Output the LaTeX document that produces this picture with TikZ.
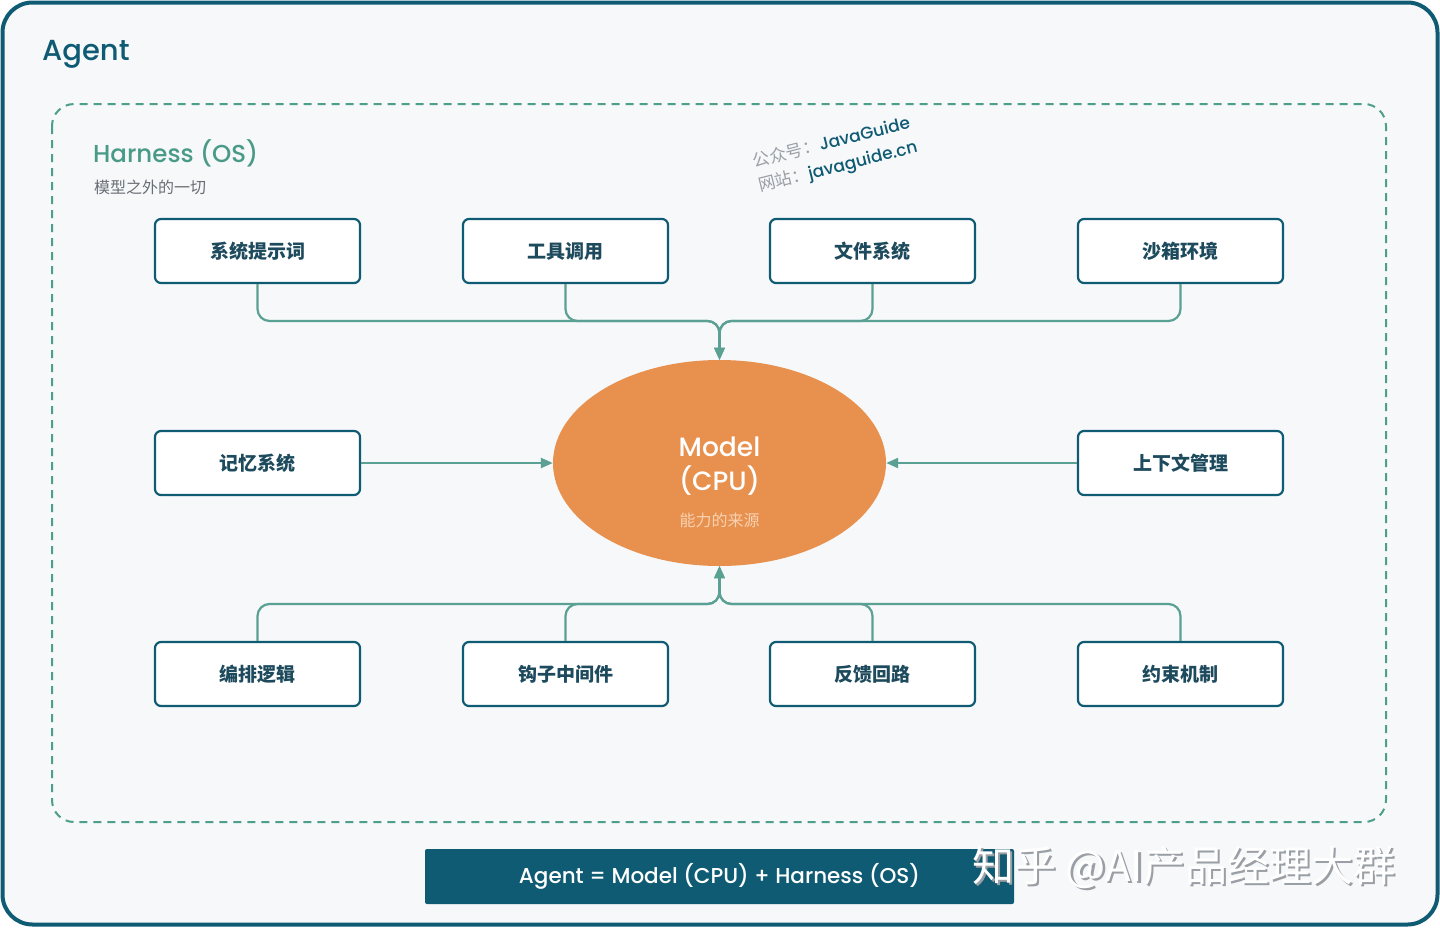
\documentclass[tikz,border=0pt]{standalone}
\usepackage{fontspec}
\setmainfont{Poppins}
\newfontfamily\popmed{Poppins Medium}
\newfontfamily\cjk{Noto Sans CJK SC}
\usetikzlibrary{shapes.geometric,arrows.meta,calc}
\definecolor{framecol}{HTML}{0F5B73}
\definecolor{bgcol}{HTML}{F6F8FA}
\definecolor{dashcol}{HTML}{4E9E8C}
\definecolor{conncol}{HTML}{5AA093}
\definecolor{orangecol}{HTML}{E8914F}
\definecolor{boxtext}{HTML}{1D4A5C}
\definecolor{harness}{HTML}{4A9A88}
\definecolor{subgray}{HTML}{6A6F75}
\definecolor{modelsub}{HTML}{F7D2B2}
\definecolor{wmgray}{HTML}{9A9FA5}
\tikzset{
  boxnode/.style={draw=framecol, line width=2.2pt, fill=white, rounded corners=6pt,
    minimum width=205pt, minimum height=64pt, inner sep=0pt,
    font=\cjk\bfseries\fontsize{19}{22}\selectfont, text=boxtext},
  conn/.style={draw=conncol, line width=2.2pt, rounded corners=12pt,
    -{Triangle[length=12pt,width=10pt]}},
  lbl/.style={inner sep=0pt, anchor=center}
}
\begin{document}
\begin{tikzpicture}[x=1pt,y=-1pt]
\useasboundingbox (0,0) rectangle (1440,927);
\fill[white] (0,0) rectangle (1440,927);
% outer frame
\draw[framecol, line width=4pt, fill=bgcol, rounded corners=30pt] (2.5,2.5) rectangle (1437.5,924.5);
\node[lbl, anchor=west, text=framecol, font=\popmed\fontsize{29}{34}\selectfont] (agent) at (42,54) {Agent};
% dashed harness
\draw[dashcol, line width=2pt, dash pattern=on 8pt off 6pt, rounded corners=22pt] (52,104) rectangle (1386,822);
\node[lbl, anchor=west, text=harness, font=\popmed\fontsize{24.5}{30}\selectfont] (harn) at (93,153) {Harness (OS)};
\node[lbl, anchor=west, text=subgray, font=\cjk\fontsize{16}{18}\selectfont] (harnsub) at (94,187) {模型之外的一切};
% watermark JavaGuide
\node[lbl, rotate=14, anchor=west, font=\fontsize{17}{21}\selectfont] (wm1) at (753,161)
  {{\cjk\color{wmgray}公众号：}{\popmed\color{framecol}JavaGuide}};
\node[lbl, rotate=14, anchor=west, font=\fontsize{17}{21}\selectfont] (wm2) at (759,187)
  {{\cjk\color{wmgray}网站：}{\popmed\color{framecol}javaguide.cn}};
% boxes
\node[boxnode] (b1) at (257.5,251) {系统提示词};
\node[boxnode] (b2) at (565.5,251) {工具调用};
\node[boxnode] (b3) at (872.5,251) {文件系统};
\node[boxnode] (b4) at (1180.5,251) {沙箱环境};
\node[boxnode] (l1) at (257.5,463) {记忆系统};
\node[boxnode] (r1) at (1180.5,463) {上下文管理};
\node[boxnode] (c1) at (257.5,674) {编排逻辑};
\node[boxnode] (c2) at (565.5,674) {钩子中间件};
\node[boxnode] (c3) at (872.5,674) {反馈回路};
\node[boxnode] (c4) at (1180.5,674) {约束机制};
% model
\node[ellipse, fill=orangecol, minimum width=333pt, minimum height=206pt, inner sep=0pt] (m) at (719.5,463) {};
\node[lbl, text=white, font=\popmed\fontsize{26.5}{30}\selectfont] (mt1) at (719.5,447) {Model};
\node[lbl, text=white, font=\popmed\fontsize{26.5}{30}\selectfont] (mt2) at (719.5,481) {(CPU)};
\node[lbl, text=modelsub, font=\cjk\fontsize{16}{18}\selectfont] (mt3) at (719.5,520) {能力的来源};
% connectors
\coordinate (jt) at (719.5,321);
\coordinate (jb) at (719.5,604);
\foreach \n in {b1,b2,b3,b4} { \draw[conn] (\n.south) |- (jt) -- (m.north); }
\foreach \n in {c1,c2,c3,c4} { \draw[conn] (\n.north) |- (jb) -- (m.south); }
\draw[conn] (l1.east) -- (m.west);
\draw[conn] (r1.west) -- (m.east);
% banner
\node[fill=framecol, rounded corners=2pt, minimum width=589pt, minimum height=55pt, inner sep=0pt,
  text=white, font=\popmed\fontsize{21.5}{24}\selectfont] (banner) at (719.5,876.5) {Agent = Model (CPU) + Harness (OS)};
% zhihu watermark
\node[lbl, anchor=west, text=wmgray, font=\cjk\fontsize{42}{46}\selectfont] (zh0) at (974.5,869.5) {知乎 @AI产品经理大群};
\node[lbl, anchor=west, text=white, font=\cjk\fontsize{42}{46}\selectfont] (zh) at (972,867) {知乎 @AI产品经理大群};
\end{tikzpicture}
\end{document}
